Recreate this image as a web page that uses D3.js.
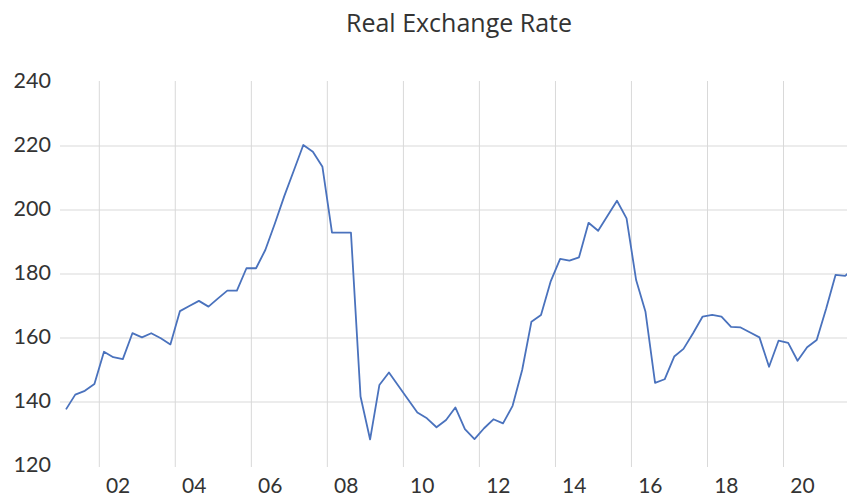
<!DOCTYPE html>
<html>
<head>
<meta charset="utf-8">
<script src="https://cdn.jsdelivr.net/npm/d3@7"></script>
<style>
  html, body { margin: 0; padding: 0; background: #fff; }
  svg { display: block; }
  text { font-family: Lato, "Open Sans", sans-serif; fill: #333; }
</style>
</head>
<body>
<svg id="chart" width="847" height="498"></svg>
<script>
// Quarterly observations, 2001Q1 – 2021Q4
const quarters = [
  "2001Q1","2001Q2","2001Q3","2001Q4",
  "2002Q1","2002Q2","2002Q3","2002Q4",
  "2003Q1","2003Q2","2003Q3","2003Q4",
  "2004Q1","2004Q2","2004Q3","2004Q4",
  "2005Q1","2005Q2","2005Q3","2005Q4",
  "2006Q1","2006Q2","2006Q3","2006Q4",
  "2007Q1","2007Q2","2007Q3","2007Q4",
  "2008Q1","2008Q2","2008Q3","2008Q4",
  "2009Q1","2009Q2","2009Q3","2009Q4",
  "2010Q1","2010Q2","2010Q3","2010Q4",
  "2011Q1","2011Q2","2011Q3","2011Q4",
  "2012Q1","2012Q2","2012Q3","2012Q4",
  "2013Q1","2013Q2","2013Q3","2013Q4",
  "2014Q1","2014Q2","2014Q3","2014Q4",
  "2015Q1","2015Q2","2015Q3","2015Q4",
  "2016Q1","2016Q2","2016Q3","2016Q4",
  "2017Q1","2017Q2","2017Q3","2017Q4",
  "2018Q1","2018Q2","2018Q3","2018Q4",
  "2019Q1","2019Q2","2019Q3","2019Q4",
  "2020Q1","2020Q2","2020Q3","2020Q4",
  "2021Q1","2021Q2","2021Q3","2021Q4"
];

const rateValues = [
  137.7, 142.3, 143.5, 145.6,
  155.7, 154.0, 153.4, 161.5,
  160.2, 161.5, 159.9, 158.0,
  168.4, 170.0, 171.6, 169.8,
  172.4, 174.8, 174.8, 181.8,
  181.8, 187.5, 195.8, 204.5,
  212.5, 220.3, 218.2, 213.5,
  192.9, 192.9, 192.9, 141.7,
  128.3, 145.3, 149.2, 145.0,
  140.8, 136.7, 134.9, 132.1,
  134.4, 138.3, 131.5, 128.4,
  131.8, 134.6, 133.3, 138.8,
  150.0, 165.1, 167.2, 177.6,
  184.7, 184.2, 185.2, 196.0,
  193.5, 198.1, 202.9, 197.4,
  178.1, 168.2, 146.0, 147.1,
  154.2, 156.6, 161.5, 166.7,
  167.2, 166.7, 163.5, 163.3,
  161.7, 160.2, 151.0, 159.2,
  158.5, 152.9, 157.1, 159.4,
  169.3, 179.7, 179.4, 182.0
];

const yTicks = [120, 140, 160, 180, 200, 220, 240];
const gridYears = [2002, 2004, 2006, 2008, 2010, 2012, 2014, 2016, 2018, 2020];
const yearLabels = ["02", "04", "06", "08", "10", "12", "14", "16", "18", "20"];

const svg = d3.select("#chart");

// Each quarter is plotted at the middle of its span
function quarterMid(q) {
  const year = +q.slice(0, 4);
  const qi = +q.slice(5) - 1;
  return new Date(year, qi * 3 + 1, 15);
}

const data = quarters.map((q, i) => ({ date: quarterMid(q), value: rateValues[i] }));

const plotLeft = 60, plotTop = 81, plotBottom = 467;

const x = d3.scaleTime()
  .domain([new Date(2002, 0, 1), new Date(2020, 0, 1)])
  .range([99.3, 783.5]);

const y = d3.scaleLinear()
  .domain([120, 240])
  .range([466, 82]);

// Horizontal gridlines (interior values only)
svg.append("g")
  .selectAll("line")
  .data(yTicks.filter(v => v > 120 && v < 240))
  .join("line")
  .attr("x1", plotLeft).attr("x2", 847)
  .attr("y1", d => y(d)).attr("y2", d => y(d))
  .attr("stroke", "#d9d9d9").attr("stroke-width", 1);

// Vertical gridlines at the start of every other year
svg.append("g")
  .selectAll("line")
  .data(gridYears)
  .join("line")
  .attr("x1", d => x(new Date(d, 0, 1))).attr("x2", d => x(new Date(d, 0, 1)))
  .attr("y1", plotTop).attr("y2", plotBottom)
  .attr("stroke", "#d9d9d9").attr("stroke-width", 1);

// Y axis labels
svg.append("g")
  .selectAll("text")
  .data(yTicks)
  .join("text")
  .attr("x", 51)
  .attr("y", d => y(d) - 2)
  .attr("text-anchor", "end")
  .attr("dominant-baseline", "central")
  .style("font-size", "21.5px")
  .text(d => d);

// X axis labels, centred mid-year
svg.append("g")
  .selectAll("text")
  .data(gridYears)
  .join("text")
  .attr("x", d => x(new Date(d, 6, 1)))
  .attr("y", 493)
  .attr("text-anchor", "middle")
  .style("font-size", "21px")
  .text((d, i) => yearLabels[i]);

// Series line
const line = d3.line()
  .x(d => x(d.date))
  .y(d => y(d.value));

svg.append("path")
  .datum(data)
  .attr("d", line)
  .attr("fill", "none")
  .attr("stroke", "#4a72bd")
  .attr("stroke-width", 1.8)
  .attr("stroke-linejoin", "round");

// Title
svg.append("text")
  .attr("x", 459)
  .attr("y", 32)
  .attr("text-anchor", "middle")
  .style("font-family", "'Open Sans', Lato, sans-serif")
  .style("font-size", "25px")
  .text("Real Exchange Rate");
</script>
</body>
</html>
